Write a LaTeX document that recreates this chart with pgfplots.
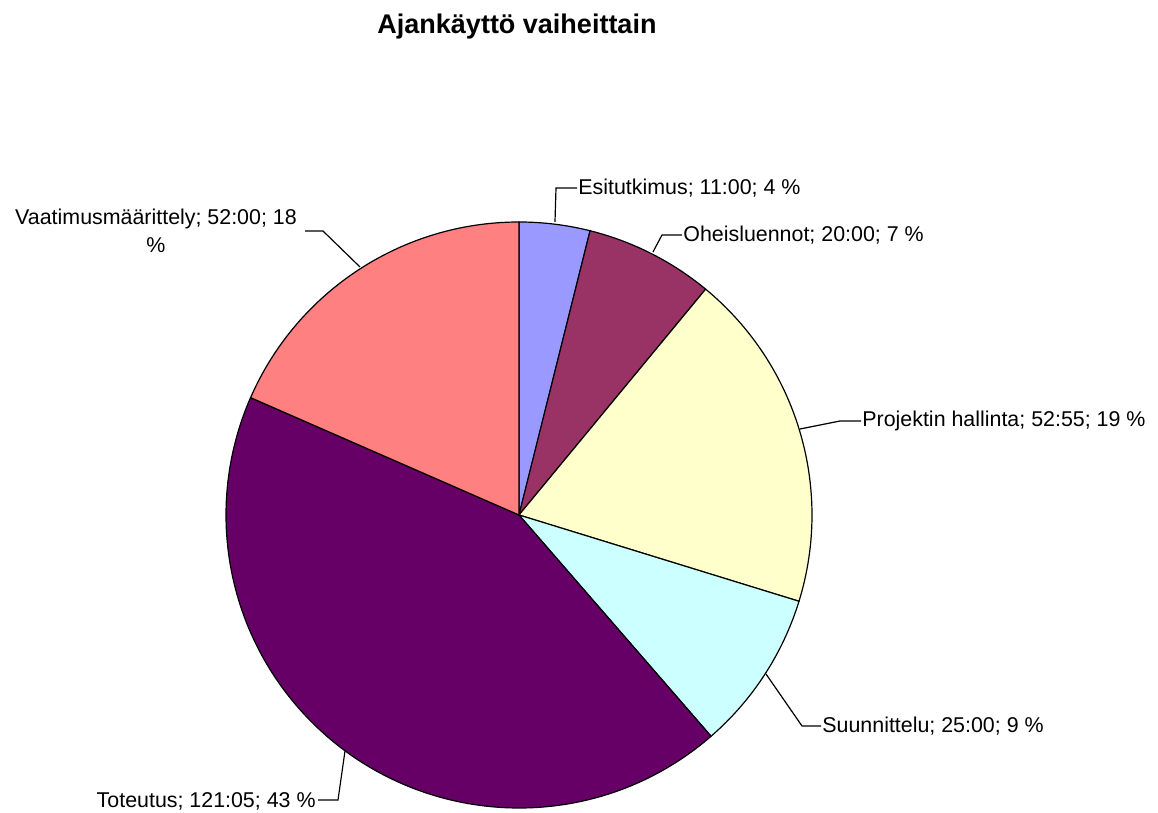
\documentclass[border=0pt]{standalone}
\usepackage{fontspec}
\setmainfont{Liberation Sans}
\usepackage{pgfplots}
\usepackage{pgfplotstable}
\pgfplotsset{compat=1.18}
\definecolor{c0}{HTML}{9999FF}
\definecolor{c1}{HTML}{993366}
\definecolor{c2}{HTML}{FFFFCC}
\definecolor{c3}{HTML}{CCFFFF}
\definecolor{c4}{HTML}{660066}
\definecolor{c5}{HTML}{FF8080}
% time per phase: hours and minutes
\pgfplotstableread{
name h m
Esitutkimus 11 0
Oheisluennot 20 0
Projektin_hallinta 52 55
Suunnittelu 25 0
Toteutus 121 5
Vaatimusmaarittely 52 0
}\piedata
\begin{document}
\begin{tikzpicture}
\def\pietotal{0}%
\pgfplotsforeachungrouped \i in {0,...,5}{%
  \pgfplotstablegetelem{\i}{h}\of\piedata\let\hh\pgfplotsretval
  \pgfplotstablegetelem{\i}{m}\of\piedata\let\mm\pgfplotsretval
  \pgfmathsetmacro\pietotal{\pietotal+\hh+\mm/60}%
}%
\def\piecum{0}%
\pgfplotsforeachungrouped \i in {0,...,5}{%
  \pgfplotstablegetelem{\i}{h}\of\piedata\let\hh\pgfplotsretval
  \pgfplotstablegetelem{\i}{m}\of\piedata\let\mm\pgfplotsretval
  \pgfmathsetmacro\startang{90-360*(\piecum/\pietotal)}%
  \pgfmathsetmacro\piecum{\piecum+\hh+\mm/60}%
  \pgfmathsetmacro\endang{90-360*(\piecum/\pietotal)}%
  \expandafter\xdef\csname pieS\i\endcsname{\startang}%
  \expandafter\xdef\csname pieE\i\endcsname{\endang}%
}%
\begin{axis}[
  width=579pt, height=406.5pt, scale only axis,
  xmin=0, xmax=1158, ymin=0, ymax=813,
  hide axis, clip=false,
]
\coordinate (bbSW) at (axis cs:0,0);
\coordinate (bbNE) at (axis cs:1158,813);
\pgfplotsinvokeforeach{0,...,5}{
  \filldraw[fill=c#1, draw=black, line width=0.6pt, line join=round]
    (axis cs:519,298) -- ++(\csname pieS#1\endcsname:146.5pt)
    arc[start angle=\csname pieS#1\endcsname, end angle=\csname pieE#1\endcsname, radius=146.5pt] -- cycle;
}
\tikzset{lbl/.style={inner sep=0pt, font=\fontsize{10.7}{14}\selectfont}}
\tikzset{lead/.style={draw=black, line width=0.6pt}}
% Esitutkimus
\draw[lead] (axis cs:555,591) -- (axis cs:556,625) -- (axis cs:577,625);
\node[lbl, anchor=west] at (axis cs:578,625) {Esitutkimus; 11:00; 4 \%};
% Oheisluennot
\draw[lead] (axis cs:653,561) -- (axis cs:662,578) -- (axis cs:682,578);
\node[lbl, anchor=west] at (axis cs:683,578) {Oheisluennot; 20:00; 7 \%};
% Projektin hallinta
\draw[lead] (axis cs:800,384) -- (axis cs:840,392) -- (axis cs:861,392);
\node[lbl, anchor=west] at (axis cs:862,392) {Projektin hallinta; 52:55; 19 \%};
% Suunnittelu
\draw[lead] (axis cs:766,139) -- (axis cs:802,87) -- (axis cs:821,87);
\node[lbl, anchor=west] at (axis cs:822,87) {Suunnittelu; 25:00; 9 \%};
% Toteutus
\draw[lead] (axis cs:345,62) -- (axis cs:338,13) -- (axis cs:318,13);
\node[lbl, anchor=east] at (axis cs:316,12) {Toteutus; 121:05; 43 \%};
% Vaatimusmaarittely
\draw[lead] (axis cs:360,546) -- (axis cs:323,582) -- (axis cs:305,582);
\node[lbl, align=center, anchor=center] at (axis cs:156,582) {Vaatimusmäärittely; 52:00; 18\\\%};
% title
\node[inner sep=0pt, font=\bfseries\fontsize{13.5}{16}\selectfont] at (axis cs:517,786) {Ajankäyttö vaiheittain};
\end{axis}
\pgfresetboundingbox
\path (bbSW) rectangle (bbNE);
\end{tikzpicture}
\end{document}
